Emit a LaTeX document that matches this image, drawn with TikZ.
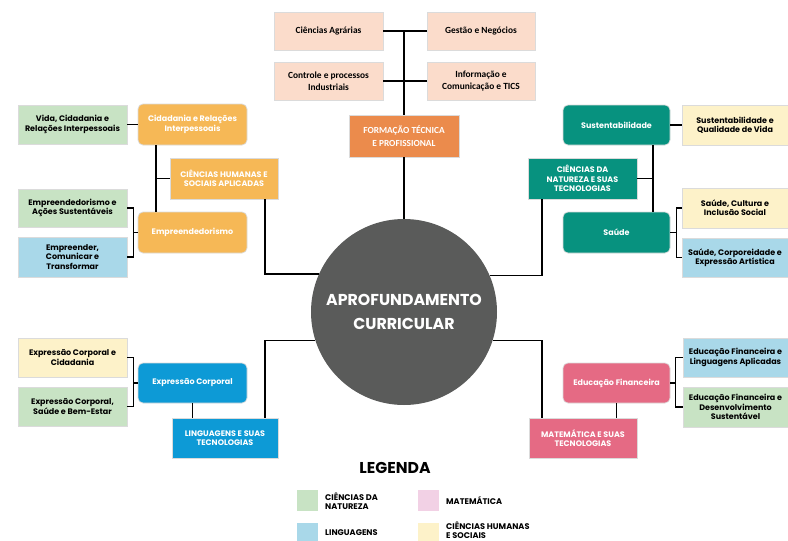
\documentclass[tikz,border=0pt]{standalone}
\usepackage{fontspec}
\setmainfont{Poppins}
\newfontfamily\carl{Carlito}
\definecolor{peach}{HTML}{FBDCCB}
\definecolor{ftpor}{HTML}{EB8B4C}
\definecolor{hum}{HTML}{F6B856}
\definecolor{teal}{HTML}{07927F}
\definecolor{lng}{HTML}{0D9AD6}
\definecolor{mat}{HTML}{E56A84}
\definecolor{lgreen}{HTML}{C8E3C4}
\definecolor{lblue}{HTML}{A9D8E9}
\definecolor{lyellow}{HTML}{FDF2C9}
\definecolor{lpink}{HTML}{F2D1E5}
\definecolor{circ}{HTML}{5A5B5A}
\tikzset{
  bx/.style={rectangle, draw=black!14, line width=0.7pt, align=center, inner sep=1pt, font=\fontsize{8}{9.3}\selectfont\bfseries},
  topbx/.style={bx, fill=peach, minimum width=109pt, minimum height=38pt, font=\carl\fontsize{9.4}{12.5}\selectfont\bfseries},
  rbx/.style={bx, rounded corners=5pt, text=white, minimum width=109pt, minimum height=41pt},
  areabx/.style={bx, text=white, minimum width=108pt, minimum height=41pt},
  leaf/.style={bx, minimum width=109pt, minimum height=39pt},
  con/.style={line width=1.3pt, black},
  sw/.style={minimum width=21pt, minimum height=21pt, inner sep=0pt},
  lgt/.style={anchor=west, align=left, font=\fontsize{8.2}{8.8}\selectfont\bfseries, inner sep=0pt}
}
\begin{document}
\begin{tikzpicture}[x=1pt,y=-1pt]
\useasboundingbox (0,0) rectangle (788,541);
\fill[white] (0,0) rectangle (788,541);
% centre
\node[circle, fill=circ, minimum size=186pt, inner sep=0pt, text=white, align=center, font=\fontsize{15.8}{24}\selectfont\bfseries] (circ) at (404,312) {APROFUNDAMENTO\\CURRICULAR};
% top
\node[topbx] (agr) at (328.5,31) {Ciências Agrárias};
\node[topbx, minimum width=108pt] (ges) at (481,31) {Gestão e Negócios};
\node[topbx] (con) at (328.5,81) {Controle e processos\\Industriais};
\node[topbx, minimum width=108pt] (inf) at (481,81) {Informação e\\Comunicação e TICS};
\node[bx, fill=ftpor, text=white, minimum width=110pt, minimum height=42pt, font=\carl\fontsize{9.3}{12.5}\selectfont\bfseries] (ftp) at (404,136) {FORMAÇÃO TÉCNICA\\E PROFISSIONAL};
\draw[con] (agr.east) -- (ges.west);
\draw[con] (con.east) -- (inf.west);
\draw[con] (agr.east -| ftp.north) -- (ftp.north);
\draw[con] (ftp.south) -- (circ.north);
% left upper
\node[leaf, fill=lgreen] (vida) at (72.5,124.5) {Vida, Cidadania e\\Relações Interpessoais};
\node[rbx, fill=hum] (cid) at (192.5,124.5) {Cidadania e Relações\\Interpessoais};
\node[areabx, fill=hum] (chs) at (224,178.5) {CIÊNCIAS HUMANAS E\\SOCIAIS APLICADAS};
\node[rbx, fill=hum] (emp) at (192.5,232.5) {Empreendedorismo};
\node[leaf, fill=lgreen, minimum height=38pt] (eas) at (72.5,208) {Empreendedorismo e\\Ações Sustentáveis};
\node[leaf, fill=lblue, minimum height=40pt] (ect) at (72.5,257) {Empreender,\\Comunicar e\\Transformar};
\coordinate (lb1) at (156,178.5);
\draw[con] (vida.east) -- (cid.west);
\draw[con] ([xshift=-36.5pt]cid.south) -- ([xshift=-36.5pt]emp.north);
\draw[con] (lb1) -- (chs.west);
\draw[con] (eas.east) -- ++(6,0) |- (ect.east);
\draw[con] (emp.west) -- ++(-5,0);
\draw[con] ([xshift=41pt]chs.south) |- (circ.156.6);
% right upper
\node[rbx, fill=teal, minimum width=107pt, minimum height=40pt] (sus) at (616.5,125) {Sustentabilidade};
\node[leaf, fill=lyellow, minimum width=106pt, minimum height=40pt] (sqv) at (735,125) {Sustentabilidade e\\Qualidade de Vida};
\node[areabx, fill=teal, minimum width=109pt] (cnt) at (582.5,178.5) {CIÊNCIAS DA\\NATUREZA E SUAS\\TECNOLOGIAS};
\node[rbx, fill=teal, minimum width=107pt] (sau) at (616.5,232.5) {Saúde};
\node[leaf, fill=lyellow, minimum width=106pt, minimum height=40pt] (sci) at (735,208) {Saúde, Cultura e\\Inclusão Social};
\node[leaf, fill=lblue, minimum width=106pt] (sce) at (735,257.5) {Saúde, Corporeidade e\\Expressão Artística};
\coordinate (rb1) at (653,178.5);
\draw[con] (sus.east) -- (sqv.west);
\draw[con] ([xshift=36.5pt]sus.south) -- ([xshift=36.5pt]sau.north);
\draw[con] (rb1) -- (cnt.east);
\draw[con] (sci.west) -- ++(-5,0) |- (sce.west);
\draw[con] (sau.east) -- ++(7,0);
\draw[con] ([xshift=-40.5pt]cnt.south) |- (circ.23.4);
% bottom left
\node[leaf, fill=lyellow] (ecc) at (72.5,357.5) {Expressão Corporal e\\Cidadania};
\node[leaf, fill=lgreen] (ecs) at (72.5,406.5) {Expressão Corporal,\\Saúde e Bem-Estar};
\node[rbx, fill=lng, minimum height=40pt] (ecp) at (192.5,383) {Expressão Corporal};
\node[areabx, fill=lng, minimum width=106pt, minimum height=40pt] (lin) at (225,438) {LINGUAGENS E SUAS\\TECNOLOGIAS};
\draw[con] (ecc.east) -- ++(6,0) |- (ecs.east);
\draw[con] (ecp.west) -- ++(-5,0);
\draw[con] (ecp.south) -- (ecp.south |- lin.north);
\draw[con] ([xshift=40pt]lin.north) |- (circ.198.8);
% bottom right
\node[rbx, fill=mat, minimum width=107pt, minimum height=40pt] (edf) at (616.5,383) {Educação Financeira};
\node[leaf, fill=lblue, minimum width=105pt] (efl) at (735.5,357.5) {Educação Financeira e\\Linguagens Aplicadas};
\node[leaf, fill=lgreen, minimum width=105pt, minimum height=40pt] (efd) at (735.5,407) {Educação Financeira e\\Desenvolvimento\\Sustentável};
\node[areabx, fill=mat, minimum height=40pt] (mat) at (583,438) {MATEMÁTICA E SUAS\\TECNOLOGIAS};
\draw[con] (efl.west) -- ++(-7,0) |- (efd.west);
\draw[con] (edf.east) -- ++(6,0);
\draw[con] (edf.south) -- (edf.south |- mat.north);
\draw[con] ([xshift=-41pt]mat.north) |- (circ.-18.8);
% legend
\node[font=\fontsize{15.7}{18}\selectfont\bfseries] (leg) at (395,468) {LEGENDA};
\node[sw, fill=lgreen] (s1) at (307.5,500.5) {};
\node[sw, fill=lpink] (s2) at (428,500.5) {};
\node[sw, fill=lblue] (s3) at (307.5,533.5) {};
\node[sw, fill=lyellow] (s4) at (428,533.5) {};
\node[lgt] (t1) at (325,501) {CIÊNCIAS DA\\NATUREZA};
\node[lgt] (t2) at (446,500.5) {MATEMÁTICA};
\node[lgt] (t3) at (325,532.5) {LINGUAGENS};
\node[lgt] (t4) at (446,530.5) {CIÊNCIAS HUMANAS\\E SOCIAIS};
\end{tikzpicture}
\end{document}
